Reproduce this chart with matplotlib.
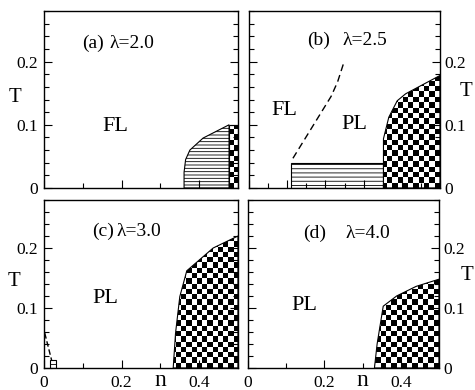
import numpy as np
import matplotlib
matplotlib.use('Agg')
import matplotlib.pyplot as plt
from matplotlib.patches import Polygon
from matplotlib.ticker import MultipleLocator, FuncFormatter

plt.rcParams['font.family'] = ['Liberation Serif', 'DejaVu Serif']
plt.rcParams['hatch.linewidth'] = 0.6

# phase boundaries (n, T)
a_hatch_n = [0.361, 0.361, 0.365, 0.376, 0.41, 0.477, 0.477]
a_hatch_T = [0.0, 0.025, 0.045, 0.06, 0.079, 0.1, 0.0]
a_check_n = [0.477, 0.477, 0.5, 0.5]
a_check_T = [0.0, 0.1, 0.1, 0.0]

b_hatch_n = [0.11, 0.11, 0.352, 0.352]
b_hatch_T = [0.0, 0.04, 0.04, 0.0]
b_check_n = [0.352, 0.352, 0.366, 0.388, 0.41, 0.441, 0.5, 0.5]
b_check_T = [0.0, 0.078, 0.112, 0.138, 0.149, 0.159, 0.178, 0.0]
b_dash_n = [0.115, 0.215, 0.232, 0.248]
b_dash_T = [0.047, 0.145, 0.168, 0.198]

c_check_n = [0.333, 0.339, 0.35, 0.368, 0.436, 0.5, 0.5]
c_check_T = [0.0, 0.058, 0.119, 0.162, 0.2, 0.22, 0.0]
c_dash_n = [0.002, 0.02]
c_dash_T = [0.058, 0.012]
c_box_n = [0.016, 0.016, 0.03, 0.03]
c_box_T = [0.0, 0.013, 0.013, 0.0]

d_check_n = [0.331, 0.338, 0.354, 0.389, 0.44, 0.5, 0.5]
d_check_T = [0.0, 0.04, 0.103, 0.12, 0.136, 0.148, 0.0]

W, H = 475, 390
fig = plt.figure(figsize=(W / 100, H / 100), dpi=100)

pos = {
    'a': [44 / W, 1 - 188 / H, 194 / W, 177 / H],
    'b': [249 / W, 1 - 188 / H, 191 / W, 177 / H],
    'c': [44 / W, 1 - 368 / H, 194 / W, 168 / H],
    'd': [248 / W, 1 - 368 / H, 191 / W, 168 / H],
}

fmt = FuncFormatter(lambda v, p: '0' if abs(v) < 1e-9 else '%.1f' % v)


def setup(ax, right=False, bottom=False, xminor=0.1, xmajor=0.2):
    ax.set_xlim(0, 0.5)
    ax.set_ylim(0, 0.28)
    ax.xaxis.set_major_locator(MultipleLocator(xmajor))
    ax.xaxis.set_minor_locator(MultipleLocator(xminor))
    ax.yaxis.set_major_locator(MultipleLocator(0.1))
    ax.yaxis.set_minor_locator(MultipleLocator(0.02))
    ax.xaxis.set_major_formatter(fmt)
    ax.yaxis.set_major_formatter(fmt)
    ax.tick_params(which='both', direction='in', top=False, left=True, right=True,
                   width=0.8, labelsize=12.5)
    ax.tick_params(which='major', length=6)
    ax.tick_params(which='minor', length=3.5)
    ax.tick_params(axis='x', labelbottom=bottom, pad=5)
    if right:
        ax.tick_params(axis='y', labelleft=False, labelright=True, pad=3.5)
    else:
        ax.tick_params(axis='y', labelleft=True, labelright=False, pad=4.5)
    for s in ax.spines.values():
        s.set_linewidth(1.0)


def checker(ax, n, T):
    poly = Polygon(np.column_stack([n, T]), closed=True, facecolor='none',
                   edgecolor='black', lw=0.8, zorder=2)
    ax.add_patch(poly)
    bb = ax.get_position()
    nx = int(round(bb.width * W / 5.3))
    ny = int(round(bb.height * H / 5.3))
    grid = np.indices((ny, nx)).sum(axis=0) % 2
    im = ax.imshow(grid, cmap='gray_r', extent=(0, 0.5, 0, 0.28), origin='lower',
                   aspect='auto', interpolation='nearest', zorder=1)
    im.set_clip_path(poly)


def hatched(ax, n, T, hatch='----'):
    ax.add_patch(Polygon(np.column_stack([n, T]), closed=True, facecolor='white',
                         edgecolor='black', lw=0.8, hatch=hatch, zorder=1))


ax_a = fig.add_axes(pos['a'])
ax_b = fig.add_axes(pos['b'])
ax_c = fig.add_axes(pos['c'])
ax_d = fig.add_axes(pos['d'])

# (a)
hatched(ax_a, a_hatch_n, a_hatch_T, '-----')
checker(ax_a, a_check_n, a_check_T)
ax_a.text(0.097, 0.229, '(a)', fontsize=14, va='center')
ax_a.text(0.170, 0.229, 'λ=2.0', fontsize=14, va='center')
ax_a.text(0.183, 0.0965, 'FL', fontsize=16, ha='center', va='center')
setup(ax_a)

# (b)
hatched(ax_b, b_hatch_n, b_hatch_T, '----')
checker(ax_b, b_check_n, b_check_T)
ax_b.plot(b_dash_n, b_dash_T, color='black', lw=1.0, dashes=(5, 3))
ax_b.text(0.151, 0.234, '(b)', fontsize=14, va='center')
ax_b.text(0.244, 0.234, 'λ=2.5', fontsize=14, va='center')
ax_b.text(0.092, 0.123, 'FL', fontsize=16, ha='center', va='center')
ax_b.text(0.275, 0.0997, 'PL', fontsize=16, ha='center', va='center')
setup(ax_b, right=True, xminor=0.05, xmajor=0.1)

# (c)
checker(ax_c, c_check_n, c_check_T)
hatched(ax_c, c_box_n, c_box_T, '----')
ax_c.plot(c_dash_n, c_dash_T, color='black', lw=1.0, dashes=(4, 2))
ax_c.text(0.123, 0.227, '(c)', fontsize=14, va='center')
ax_c.text(0.187, 0.227, 'λ=3.0', fontsize=14, va='center')
ax_c.text(0.157, 0.116, 'PL', fontsize=16, ha='center', va='center')
setup(ax_c, bottom=True)

# (d)
checker(ax_d, d_check_n, d_check_T)
ax_d.text(0.145, 0.2245, '(d)', fontsize=14, va='center')
ax_d.text(0.254, 0.2245, 'λ=4.0', fontsize=14, va='center')
ax_d.text(0.147, 0.105, 'PL', fontsize=16, ha='center', va='center')
setup(ax_d, right=True, bottom=True)

# axis titles
fig.text(15 / W, 1 - 98 / H, 'T', fontsize=15, ha='center', va='center')
fig.text(14 / W, 1 - 282 / H, 'T', fontsize=15, ha='center', va='center')
fig.text(466 / W, 1 - 92 / H, 'T', fontsize=15, ha='center', va='center')
fig.text(467 / W, 1 - 276 / H, 'T', fontsize=15, ha='center', va='center')
for ax in (ax_c, ax_d):
    x_fig = ax.get_position().x0 + 0.6 * ax.get_position().width
    fig.text(x_fig, 4 / H, 'n', fontsize=17, ha='center', va='baseline')

fig.savefig('out.png', dpi=100)
